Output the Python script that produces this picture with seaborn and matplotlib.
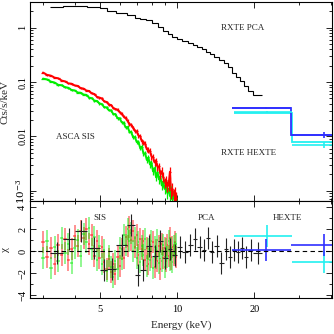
import matplotlib
matplotlib.use("Agg")
import matplotlib.pyplot as plt
import matplotlib.ticker as mticker
import numpy as np
import pandas as pd
import seaborn as sns

# ── ASCA SIS (SIS0 rojo, SIS1 verde) ─────────────────────────────────────────
sis_energy = [3.00, 3.11, 3.22, 3.33, 3.44, 3.55, 3.66, 3.77, 3.88, 3.99,
              4.10, 4.21, 4.32, 4.43, 4.54, 4.65, 4.76, 4.87, 4.98, 5.09,
              5.20, 5.31, 5.42, 5.53, 5.64, 5.75, 5.86, 5.97, 6.08, 6.19,
              6.30, 6.41, 6.52, 6.63, 6.74, 6.85, 6.96, 7.07, 7.18, 7.29,
              7.40, 7.51, 7.62, 7.73, 7.84, 7.95, 8.06, 8.17, 8.28, 8.39,
              8.50, 8.61, 8.72, 8.83, 8.94, 9.05, 9.16, 9.27, 9.38, 9.49,
              9.60, 9.71, 9.82, 9.93]
sis_halfwidth = 0.055
sis0_rate = [0.150, 0.136, 0.1315, 0.1208, 0.1175, 0.1067, 0.1030, 0.0944, 0.0933, 0.0867,
             0.0851, 0.0773, 0.0760, 0.0700, 0.0686, 0.0621, 0.0603, 0.0535, 0.0520, 0.0499,
             0.0442, 0.0432, 0.0385, 0.0378, 0.0335, 0.0320, 0.0312, 0.0279, 0.0261, 0.0232,
             0.0219, 0.0193, 0.0169, 0.0164, 0.0146, 0.0127, 0.0124, 0.0104, 0.0101, 0.00815,
             0.00791, 0.00735, 0.00581, 0.00565, 0.00536, 0.00429, 0.00417, 0.00333, 0.00349, 0.00277,
             0.00282, 0.00204, 0.00229, 0.00182, 0.00141, 0.00156, 0.00123, 0.00128, 0.00224, 0.000949,
             0.00108, 0.000828, 0.000899, 0.000724]
sis1_rate = [0.1159, 0.1119, 0.1021, 0.0982, 0.0891, 0.0875, 0.0804, 0.0785, 0.0714, 0.0701,
             0.0643, 0.0637, 0.0590, 0.0582, 0.0518, 0.0505, 0.0457, 0.0449, 0.0404, 0.0391,
             0.0346, 0.0342, 0.0303, 0.0301, 0.0259, 0.0257, 0.0217, 0.0216, 0.0183, 0.0179,
             0.0147, 0.0149, 0.0123, 0.0120, 0.00968, 0.00973, 0.00791, 0.00798, 0.00618, 0.00647,
             0.00484, 0.00489, 0.00371, 0.00411, 0.00307, 0.00329, 0.00229, 0.00262, 0.00179, 0.00220,
             0.00163, 0.00186, 0.00126, 0.00148, 0.00109, 0.00130, 0.000916, 0.00110, 0.000811, 0.000971,
             0.000714, 0.000818, 0.000632, 0.000692]
sis_relerr = [0.03, 0.03, 0.03, 0.03, 0.03, 0.032, 0.032, 0.032, 0.034, 0.034,
              0.035, 0.036, 0.037, 0.038, 0.039, 0.04, 0.041, 0.042, 0.043, 0.044,
              0.046, 0.048, 0.05, 0.052, 0.054, 0.056, 0.058, 0.06, 0.062, 0.064,
              0.066, 0.07, 0.074, 0.078, 0.082, 0.086, 0.09, 0.095, 0.10, 0.105,
              0.11, 0.115, 0.12, 0.125, 0.13, 0.135, 0.14, 0.145, 0.15, 0.16,
              0.17, 0.18, 0.19, 0.20, 0.21, 0.22, 0.23, 0.24, 0.25, 0.26,
              0.27, 0.28, 0.29, 0.30]
sis0_chi = [0.8, -0.5, 0.3, -1.2, 0.6, -0.3, 1.1, -0.8, 0.2, 1.4,
            0.5, 1.8, 1.2, 2.0, 0.7, 1.5, -0.4, 0.9, -0.6, 0.4,
            -1.0, -1.6, -0.7, -1.9, -1.2, -2.1, -0.5, -1.3, 0.2, -0.6,
            1.3, 0.5, 2.2, 1.0, 1.8, 0.4, 1.5, -0.3, 1.1, 0.2,
            0.9, -0.8, 0.3, -1.2, 0.6, -0.5, 0.8, -1.4, 0.1, -0.9,
            0.5, -1.6, 0.7, -0.6, 0.3, -0.9, 0.6, -0.4, 1.2, -0.7,
            0.4, -0.3, 0.8, -0.5]
sis1_chi = [-0.6, 0.9, -1.5, 0.4, -0.9, 1.2, -0.2, 0.7, -1.1, 0.3,
            1.0, -0.4, 1.6, 0.8, 2.1, 0.2, 1.3, -0.8, 0.5, -1.2,
            0.1, -1.8, -0.4, -1.4, -2.3, -0.9, -1.6, 0.3, -0.7, 1.5,
            0.6, 2.0, 0.9, 1.7, 0.0, 1.2, -0.6, 0.8, -1.0, 0.5,
            -0.3, 1.1, -1.3, 0.2, -0.8, 0.9, -1.5, 0.4, -0.6, 1.0,
            -1.1, 0.3, -0.9, 0.6, -1.4, 0.2, -0.5, 0.9, -0.8, 0.3,
            -1.0, 0.5, -0.2, 0.7]

# ── RXTE PCA ─────────────────────────────────────────────────────────────────
pca_edges = [3.2, 3.6, 4.0, 4.45, 5.0, 5.35, 5.8, 6.4, 6.85, 7.2, 7.6, 8.0,
             8.4, 8.8, 9.2, 9.6, 10.0, 10.5, 11.0, 11.5, 12.0, 12.5, 13.0,
             13.5, 14.0, 14.6, 15.2, 15.8, 16.4, 17.0, 17.6, 18.3, 19.0,
             19.8, 21.5]
pca_rate = [2.45, 2.52, 2.54, 2.43, 2.27, 2.05, 1.89, 1.71, 1.50, 1.42,
            1.36, 1.20, 1.05, 0.88, 0.76, 0.68, 0.61, 0.56, 0.52, 0.475,
            0.44, 0.40, 0.36, 0.33, 0.29, 0.26, 0.22, 0.19, 0.15, 0.125,
            0.105, 0.085, 0.068, 0.058]
pca_chi = [-0.2, 1.1, 1.8, 0.3, -1.7, -1.6, 0.6, 2.4, -2.2, -1.7,
           0.5, -0.4, 0.9, -0.6, 0.2, -0.3, 0.4, -0.1, 0.6, 1.1,
           0.4, 0.1, 1.2, -0.1, 0.5, -1.1, 0.2, -0.5, 0.1, -0.1,
           0.3, -0.5, 0.1, -0.2]

# ── RXTE HEXTE (cluster A azul, cluster B cian) ──────────────────────────────
hexa_edges = [16.4, 27.9, 47.0]
hexa_model = [0.0334, 0.0105]
hexa_rate = [0.0337, 0.0108]
hexa_chi = [0.12, 0.57]
hexb_edges = [16.7, 28.1, 47.0]
hexb_model = [0.0270, 0.0080]
hexb_rate = [0.0283, 0.0071]
hexb_chi = [1.42, -0.95]
hex_relerr = [0.05, 0.12]

RED, GREEN, BLUE, CYAN = "#ff0000", "#00ee00", "#3030ff", "#22f0f0"

sns.set_theme(style="ticks")
plt.rcParams["font.family"] = ["Liberation Serif", "DejaVu Serif"]
plt.rcParams["mathtext.fontset"] = "dejavuserif"
plt.rcParams["axes.unicode_minus"] = True

fig = plt.figure(figsize=(3.34, 3.34), dpi=100)
ax1 = fig.add_axes([0.0898, 0.3982, 0.904, 0.5958])
ax2 = fig.add_axes([0.0898, 0.1078, 0.904, 0.2904], sharex=ax1)

# ── Panel superior: espectros ────────────────────────────────────────────────
sis_df = pd.DataFrame({
    "E": sis_energy * 2,
    "rate": sis0_rate + sis1_rate,
    "det": ["SIS0"] * len(sis_energy) + ["SIS1"] * len(sis_energy),
})
sns.lineplot(data=sis_df, x="E", y="rate", hue="det",
             palette={"SIS0": RED, "SIS1": GREEN}, lw=1.4, legend=False, ax=ax1)
for rate, col in ((sis1_rate, GREEN), (sis0_rate, RED)):
    r = np.array(rate)
    ax1.errorbar(sis_energy, r, xerr=sis_halfwidth, yerr=r * np.array(sis_relerr),
                 fmt="none", ecolor=col, elinewidth=0.9)

ax1.stairs(pca_rate, pca_edges, color="black", lw=0.8, baseline=None)

for edges, model, rate, col in ((hexb_edges, hexb_model, hexb_rate, CYAN),
                                (hexa_edges, hexa_model, hexa_rate, BLUE)):
    e = np.array(edges)
    ctr = (e[:-1] + e[1:]) / 2
    ax1.stairs(model, edges, color=col, lw=1.3, baseline=None)
    ax1.errorbar(ctr, rate, xerr=[ctr - e[:-1], e[1:] - ctr],
                 yerr=np.array(rate) * np.array(hex_relerr),
                 fmt="none", ecolor=col, elinewidth=1.2)

ax1.set_yscale("log")
ax1.set_ylim(6.5e-4, 2.97)
ax1.yaxis.set_major_locator(mticker.FixedLocator([1e-3, 1e-2, 0.1, 1]))
ax1.yaxis.set_major_formatter(mticker.FixedFormatter([r"$10^{-3}$", "0.01", "0.1", "1"]))
ax1.yaxis.set_minor_locator(mticker.LogLocator(base=10, subs=np.arange(2, 10), numticks=20))
ax1.yaxis.set_minor_formatter(mticker.NullFormatter())
ax1.set_ylabel("Cts/s/keV", fontsize=8)
ax1.yaxis.set_label_coords(-0.068, 0.5)

txt = dict(transform=ax1.transAxes, fontsize=6.5, ha="center", va="center")
ax1.text(0.704, 0.868, "RXTE PCA", **txt)
ax1.text(0.151, 0.322, "ASCA SIS", **txt)
ax1.text(0.724, 0.240, "RXTE HEXTE", **txt)

# ── Panel inferior: residuos (chi) ───────────────────────────────────────────
for chi, col in ((sis0_chi, RED), (sis1_chi, GREEN)):
    ax2.errorbar(sis_energy, chi, xerr=sis_halfwidth, yerr=1.0,
                 fmt="none", ecolor=col, elinewidth=1.1, alpha=0.55)

pe = np.array(pca_edges)
pctr = (pe[:-1] + pe[1:]) / 2
ax2.errorbar(pctr, pca_chi, xerr=[pctr - pe[:-1], pe[1:] - pctr], yerr=1.0,
             fmt="none", ecolor="#222222", elinewidth=0.8)

for edges, chi, col in ((hexb_edges, hexb_chi, CYAN), (hexa_edges, hexa_chi, BLUE)):
    e = np.array(edges)
    ctr = (e[:-1] + e[1:]) / 2
    ax2.errorbar(ctr, chi, xerr=[ctr - e[:-1], e[1:] - ctr], yerr=1.0,
                 fmt="none", ecolor=col, elinewidth=1.2)

ax2.axhline(0, color="black", lw=0.8, ls=(0, (4, 3)))
ax2.set_ylim(-4.25, 4.57)
ax2.yaxis.set_major_locator(mticker.FixedLocator([-4, -2, 0, 2, 4]))
ax2.yaxis.set_minor_locator(mticker.MultipleLocator(1))
ax2.set_ylabel("χ", fontsize=8)
ax2.yaxis.set_label_coords(-0.066, 0.5)
ax2.set_xlabel("Energy (keV)", fontsize=8)
ax2.xaxis.set_label_coords(0.5, -0.23)

txt2 = dict(transform=ax2.transAxes, fontsize=6.5, ha="center", va="center")
ax2.text(0.232, 0.822, "SIS", **txt2)
ax2.text(0.585, 0.822, "PCA", **txt2)
ax2.text(0.854, 0.822, "HEXTE", **txt2)

# ── Ejes comunes ─────────────────────────────────────────────────────────────
ax2.set_xscale("log")
ax2.set_xlim(2.67, 40.2)
ax2.xaxis.set_major_locator(mticker.FixedLocator([5, 10, 20]))
ax2.xaxis.set_major_formatter(mticker.FixedFormatter(["5", "10", "20"]))
ax2.xaxis.set_minor_locator(mticker.FixedLocator([3, 4, 6, 7, 8, 9, 30, 40]))
ax2.xaxis.set_minor_formatter(mticker.NullFormatter())

for ax in (ax1, ax2):
    ax.tick_params(which="both", direction="in", top=True, right=True,
                   width=0.6, colors="black", labelsize=7.5)
    ax.tick_params(which="major", length=4)
    ax.tick_params(which="minor", length=2)
    ax.tick_params(axis="y", labelrotation=90, pad=2)
    for lab in ax.get_yticklabels():
        lab.set_va("center")
    for sp in ax.spines.values():
        sp.set_linewidth(0.8)
        sp.set_color("black")
ax1.tick_params(labelbottom=False)
ax2.tick_params(axis="x", pad=5)

fig.savefig("out.png", dpi=100)
